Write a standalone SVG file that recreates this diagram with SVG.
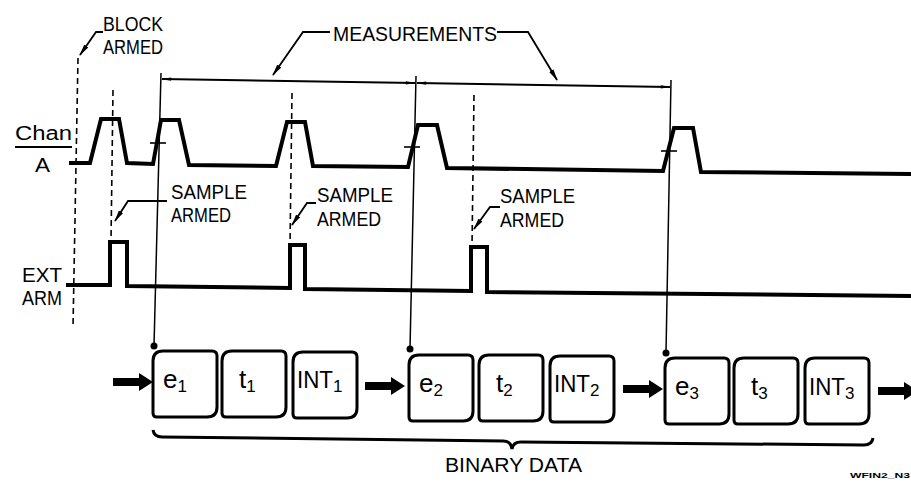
<svg xmlns="http://www.w3.org/2000/svg" xmlns:xlink="http://www.w3.org/1999/xlink" width="911" height="491" viewBox="0 0 911 491">
<style>
  .lbl { font-family: "Liberation Sans", Arial, sans-serif; font-size: 20px; fill: #000; }
  .box { font-family: "Liberation Sans", Arial, sans-serif; fill: #000; }
  .wave { fill: none; stroke: #000; stroke-width: 4; stroke-linejoin: miter; }
  .dash { fill: none; stroke: #000; stroke-width: 1.6; stroke-dasharray: 6 4; }
  .thin { fill: none; stroke: #000; stroke-width: 1.5; }
  .lead { fill: none; stroke: #000; stroke-width: 1.8; marker-end: url(#ah); }
  .dim { fill: none; stroke: #000; stroke-width: 2; marker-start: url(#dh); marker-end: url(#dh); }
  .bx { fill: #fff; stroke: #000; stroke-width: 3; }
</style>
<defs>
  <marker id="ah" viewBox="0 0 12 6" refX="11" refY="3" markerWidth="12" markerHeight="6" markerUnits="userSpaceOnUse" orient="auto">
    <path d="M0,0.5 L12,3 L0,5.5 Z" fill="#000"/>
  </marker>
  <marker id="dh" viewBox="0 0 12 6" refX="11" refY="3" markerWidth="12" markerHeight="5" markerUnits="userSpaceOnUse" orient="auto-start-reverse">
    <path d="M0,1 L12,3 L0,5 Z" fill="#000"/>
  </marker>
  <path id="boxShape" d="M10,0 H59 Q64,0 64,5 V56 Q64,66 54,66 H4 Q0,66 0,62 V10 Q0,0 10,0 Z"/>
  <path id="blockArrow" d="M0,-4 H26 V-9 L40,0 L26,9 V4 H0 Z"/>
</defs>
<rect width="911" height="491" fill="#fff"/>

<g id="labels">
  <g id="block-armed">
    <text class="lbl" x="103" y="31" textLength="60" lengthAdjust="spacingAndGlyphs">BLOCK</text>
    <text class="lbl" x="103" y="54" textLength="60" lengthAdjust="spacingAndGlyphs">ARMED</text>
  </g>
  <g id="measurements">
    <text class="lbl" x="333" y="41" textLength="164" lengthAdjust="spacingAndGlyphs">MEASUREMENTS</text>
  </g>
  <g id="chan-a">
    <text class="lbl" x="15" y="140" textLength="57" lengthAdjust="spacingAndGlyphs">Chan</text>
    <line x1="15" y1="147" x2="72" y2="147" stroke="#000" stroke-width="1.8"/>
    <text class="lbl" x="35" y="172" textLength="15" lengthAdjust="spacingAndGlyphs">A</text>
  </g>
  <g id="ext-arm">
    <text class="lbl" x="22" y="282" textLength="40" lengthAdjust="spacingAndGlyphs">EXT</text>
    <text class="lbl" x="22" y="305" textLength="40" lengthAdjust="spacingAndGlyphs">ARM</text>
  </g>
  <g id="sample-armed-1">
    <text class="lbl" x="171" y="199" textLength="76" lengthAdjust="spacingAndGlyphs">SAMPLE</text>
    <text class="lbl" x="171" y="222" textLength="60" lengthAdjust="spacingAndGlyphs">ARMED</text>
  </g>
  <g id="sample-armed-2">
    <text class="lbl" x="317" y="202" textLength="76" lengthAdjust="spacingAndGlyphs">SAMPLE</text>
    <text class="lbl" x="317" y="226" textLength="64" lengthAdjust="spacingAndGlyphs">ARMED</text>
  </g>
  <g id="sample-armed-3">
    <text class="lbl" x="500" y="203" textLength="75" lengthAdjust="spacingAndGlyphs">SAMPLE</text>
    <text class="lbl" x="500" y="227" textLength="64" lengthAdjust="spacingAndGlyphs">ARMED</text>
  </g>
  <g id="binary-data">
    <text class="lbl" x="445" y="472" textLength="137" lengthAdjust="spacingAndGlyphs">BINARY DATA</text>
  </g>
  <g id="figure-id">
    <text x="850" y="478" font-family="Liberation Sans, Arial, sans-serif" font-size="8" font-weight="bold" textLength="60" lengthAdjust="spacingAndGlyphs">WFIN2_N3</text>
  </g>
</g>

<g id="chan-a-waveform">
  <path class="wave" d="M69,163 L90,163 L101,119 L119,119 L127,163 L153,164 L161,120 L179,120 L189,165 L276,166 L287,122 L305,122 L313,166 L408,167 L418,125 L437,125 L447,168 L663,171 L674,128 L693,128 L701,172 L911,174"/>
  <line x1="150" y1="143" x2="166" y2="143" stroke="#000" stroke-width="1.6"/>
  <line x1="404" y1="147" x2="420" y2="147" stroke="#000" stroke-width="1.6"/>
  <line x1="661" y1="151" x2="677" y2="151" stroke="#000" stroke-width="1.6"/>
</g>

<g id="ext-arm-waveform">
  <path class="wave" d="M66,285 L110,285 L110,242 L127,242 L127,286 L290,288 L290,245 L305,245 L305,289 L471,291 L471,247 L487,247 L487,292 L911,296"/>
</g>

<g id="connectors">
  <line class="dash" x1="78" y1="58" x2="73" y2="327"/>
  <line class="dash" x1="113" y1="90" x2="111" y2="242"/>
  <line class="dash" x1="292" y1="93" x2="290" y2="245"/>
  <line class="dash" x1="474" y1="95" x2="472" y2="247"/>
  <line class="thin" x1="161" y1="73" x2="154" y2="346"/>
  <line class="thin" x1="416" y1="76" x2="410" y2="349"/>
  <line class="thin" x1="671" y1="80" x2="666" y2="353"/>
  <circle cx="154" cy="346" r="3.5" fill="#000"/>
  <circle cx="410" cy="349" r="3.5" fill="#000"/>
  <circle cx="666" cy="353" r="3.5" fill="#000"/>
  <line class="dim" x1="162" y1="79" x2="415" y2="83"/>
  <line class="dim" x1="417" y1="83" x2="670" y2="87"/>
  <path class="lead" d="M103,32 L96,32 L80,55"/>
  <path class="lead" d="M330,32 L303,32 L273,75"/>
  <path class="lead" d="M497,32 L528,32 L557,80"/>
  <path class="lead" d="M167,201 L128,201 L115,221"/>
  <path class="lead" d="M316,203 L307,203 L292,225"/>
  <path class="lead" d="M500,207 L490,207 L474,229"/>
  <use xlink:href="#blockArrow" href="#blockArrow" x="113" y="382"/>
  <use xlink:href="#blockArrow" href="#blockArrow" x="365" y="386"/>
  <use xlink:href="#blockArrow" href="#blockArrow" x="623" y="389"/>
  <use xlink:href="#blockArrow" href="#blockArrow" x="878" y="391"/>
  <path d="M153,430 Q154,437 162,437 L503,441 Q511,441 512,449 Q513,442 521,442 L864,445 Q872,445 873,438" fill="none" stroke="#000" stroke-width="3"/>
</g>

<g id="rec-e1"><use class="bx" xlink:href="#boxShape" href="#boxShape" x="153" y="351"/><text class="box" x="163" y="388" font-size="26">e<tspan font-size="17" dy="4">1</tspan></text></g>
<g id="rec-t1"><use class="bx" xlink:href="#boxShape" href="#boxShape" x="222" y="351"/><text class="box" x="239" y="388" font-size="26">t<tspan font-size="17" dy="4">1</tspan></text></g>
<g id="rec-int1"><use class="bx" xlink:href="#boxShape" href="#boxShape" x="293" y="352"/><text class="box" x="297" y="388" font-size="23"><tspan textLength="36" lengthAdjust="spacingAndGlyphs">INT</tspan><tspan font-size="17" dy="4">1</tspan></text></g>

<g id="rec-e2"><use class="bx" xlink:href="#boxShape" href="#boxShape" x="409" y="355"/><text class="box" x="419" y="392" font-size="26">e<tspan font-size="17" dy="4">2</tspan></text></g>
<g id="rec-t2"><use class="bx" xlink:href="#boxShape" href="#boxShape" x="479" y="355"/><text class="box" x="496" y="392" font-size="26">t<tspan font-size="17" dy="4">2</tspan></text></g>
<g id="rec-int2"><use class="bx" xlink:href="#boxShape" href="#boxShape" x="550" y="356"/><text class="box" x="554" y="392" font-size="23"><tspan textLength="36" lengthAdjust="spacingAndGlyphs">INT</tspan><tspan font-size="17" dy="4">2</tspan></text></g>

<g id="rec-e3"><use class="bx" xlink:href="#boxShape" href="#boxShape" x="665" y="358"/><text class="box" x="675" y="395" font-size="26">e<tspan font-size="17" dy="4">3</tspan></text></g>
<g id="rec-t3"><use class="bx" xlink:href="#boxShape" href="#boxShape" x="734" y="358"/><text class="box" x="751" y="395" font-size="26">t<tspan font-size="17" dy="4">3</tspan></text></g>
<g id="rec-int3"><use class="bx" xlink:href="#boxShape" href="#boxShape" x="805" y="358"/><text class="box" x="809" y="395" font-size="23"><tspan textLength="36" lengthAdjust="spacingAndGlyphs">INT</tspan><tspan font-size="17" dy="4">3</tspan></text></g>
</svg>
